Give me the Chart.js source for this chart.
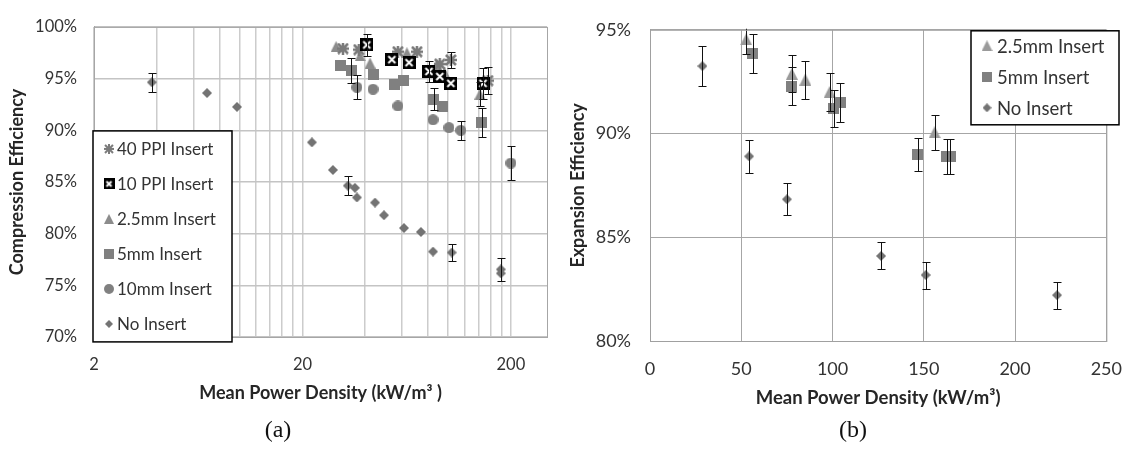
<!DOCTYPE html>
<html>
<head>
   <title>Compression / Expansion Efficiency</title>
   <meta charset="UTF-8">
   <script src="https://cdn.jsdelivr.net/npm/chart.js"></script>
   <style>
       body {
           margin: 0;
           background: #fff;
           width: 1139px;
           height: 461px;
           overflow: hidden;
           position: relative;
           font-family: Lato, sans-serif;
       }
       .panel {
           position: absolute;
           top: 0;
       }
       #panelA { left: 0; }
       #panelB { left: 560px; }
       .caption {
           position: absolute;
           top: 416px;
           width: 100px;
           text-align: center;
           font-family: "Liberation Serif", serif;
           font-size: 24px;
           color: #111;
       }
   </style>
</head>
<body>
   <div class="panel" id="panelA"><canvas id="chartA" width="560" height="420"></canvas></div>
   <div class="panel" id="panelB"><canvas id="chartB" width="579" height="420"></canvas></div>
   <div class="caption" style="left:228px">(a)</div>
   <div class="caption" style="left:803px">(b)</div>

   <script>
       // ---- (a) compression efficiency, log x axis ----
       const xTicksA = [2, 4, 6, 8, 10, 12, 14, 16, 18, 20, 40, 60, 80, 100, 120, 140, 160, 180, 200];
       const xLabelsA = [2, 20, 200];

       const ppi40X = [31.3, 37.3, 57.4, 70.8, 91.2, 103, 155];
       const ppi40Y = [97.9, 97.8, 97.6, 97.6, 96.4, 96.8, 94.8];
       const ppi40Err = [0, 0, 0, 0, 0, 0.8, 1.3];

       const ppi10X = [40.7, 53.7, 64.9, 80.9, 91.2, 103, 147];
       const ppi10Y = [98.26, 96.83, 96.54, 95.69, 95.2, 94.54, 94.54];
       const ppi10Err = [1.1, 0, 0, 1.0, 0, 0, 1.5];

       const mm25X_A = [29, 37.8, 42.2, 63.4, 88.3, 96, 142];
       const mm25Y_A = [98.1, 97.2, 96.5, 97.5, 96.35, 95.6, 93.5];
       const mm25Err_A = [0, 0, 0, 0, 0, 0, 1.2];

       const mm5X_A = [30.6, 34.2, 43.6, 55, 61.4, 85.5, 94.4, 145];
       const mm5Y_A = [96.26, 95.78, 95.4, 94.45, 94.83, 93.02, 92.26, 90.73];
       const mm5Err_A = [0, 1.2, 0, 0, 0, 1.1, 0, 1.4];

       const mm10X = [36.5, 43.6, 57.4, 84.6, 100.9, 115, 200];
       const mm10Y = [94.16, 93.97, 92.35, 91.02, 90.26, 90.0, 86.83];
       const mm10Err = [1.15, 0, 0, 0, 0, 0.9, 1.6];

       const noX_A = [3.79, 6.97, 9.7, 22.2, 28.0, 33.0, 35.7, 36.5, 44.6, 49.2, 61.4, 74, 84.6, 104, 179, 179];
       const noY_A = [94.64, 93.6, 92.26, 88.83, 86.16, 84.64, 84.43, 83.5, 83.0, 81.78, 80.54, 80.16, 78.26, 78.17, 76.54, 76.16];
       const noErr_A = [0.9, 0, 0, 0, 0, 0.9, 0, 0, 0, 0, 0, 0, 0, 0.8, 1.1, 0];

       // ---- (b) expansion efficiency ----
       const mm25X_B = [52.7, 77.7, 85.1, 98.4, 155.9];
       const mm25Y_B = [94.54, 92.88, 92.6, 92.0, 90.06];
       const mm25Err_B = [0.7, 0.9, 0.92, 0.9, 0.83];

       const mm5X_B = [56.4, 77.7, 100.6, 104.3, 146.8, 162.5, 164.5];
       const mm5Y_B = [93.85, 92.28, 91.21, 91.5, 89.0, 88.9, 88.9];
       const mm5Err_B = [0.95, 0.92, 0.88, 0.92, 0.8, 0.85, 0.85];

       const noX_B = [28.7, 54.3, 75, 126.6, 151, 223];
       const noY_B = [93.25, 88.9, 86.83, 84.1, 83.18, 82.21];
       const noErr_B = [0.97, 0.8, 0.77, 0.65, 0.65, 0.65];

       const txt = '#333';
       const gray = '#808080';

       function pts(xs, ys) {
           return xs.map((x, i) => ({ x: x, y: ys[i] }));
       }

       // small canvases used as point styles
       function marker(kind, s, color, lw) {
           const c = document.createElement('canvas');
           c.width = s; c.height = s;
           const g = c.getContext('2d');
           const m = s / 2;
           g.fillStyle = color; g.strokeStyle = color;
           if (kind === 'square') {
               g.fillRect(0, 0, s, s);
           } else if (kind === 'circle') {
               g.beginPath(); g.arc(m, m, m, 0, Math.PI * 2); g.fill();
           } else if (kind === 'triangle') {
               g.beginPath(); g.moveTo(m, 0); g.lineTo(s, s); g.lineTo(0, s); g.closePath(); g.fill();
           } else if (kind === 'diamond') {
               g.beginPath(); g.moveTo(m, 0); g.lineTo(s, m); g.lineTo(m, s); g.lineTo(0, m); g.closePath(); g.fill();
           } else if (kind === 'xbox') {
               g.fillStyle = '#000'; g.fillRect(0, 0, s, s);
               g.strokeStyle = '#fff'; g.lineWidth = 2;
               g.beginPath();
               g.moveTo(3, 3); g.lineTo(s - 3, s - 3);
               g.moveTo(s - 3, 3); g.lineTo(3, s - 3);
               g.stroke();
           } else if (kind === 'star') {
               g.lineWidth = lw || 2.5;
               g.beginPath();
               g.moveTo(m, 0); g.lineTo(m, s);
               g.moveTo(0, m); g.lineTo(s, m);
               g.moveTo(1, 1); g.lineTo(s - 1, s - 1);
               g.moveTo(s - 1, 1); g.lineTo(1, s - 1);
               g.stroke();
           }
           return c;
       }

       // vertical error bars from dataset.errors
       const errorBars = {
           id: 'errorBars',
           afterDatasetsDraw(chart) {
               const ctx = chart.ctx, xs = chart.scales.x, ys = chart.scales.y, a = chart.chartArea;
               ctx.save();
               ctx.beginPath();
               ctx.rect(a.left, a.top - 1, a.right - a.left, a.bottom - a.top + 2);
               ctx.clip();
               ctx.strokeStyle = '#111';
               ctx.lineWidth = 1;
               chart.data.datasets.forEach(ds => {
                   if (!ds.errors) return;
                   ds.data.forEach((p, i) => {
                       const e = ds.errors[i];
                       if (!e) return;
                       const px = Math.round(xs.getPixelForValue(p.x)) + 0.5;
                       const top = Math.round(ys.getPixelForValue(p.y + e)) + 0.5;
                       const bot = Math.round(ys.getPixelForValue(p.y - e)) + 0.5;
                       ctx.beginPath();
                       ctx.moveTo(px, top); ctx.lineTo(px, bot);
                       ctx.moveTo(px - 4, top); ctx.lineTo(px + 4, top);
                       ctx.moveTo(px - 4, bot); ctx.lineTo(px + 4, bot);
                       ctx.stroke();
                   });
               });
               ctx.restore();
           }
       };

       // plot frame
       const frame = {
           id: 'frame',
           afterDatasetsDraw(chart, args, o) {
               const a = chart.chartArea, ctx = chart.ctx;
               ctx.save();
               ctx.strokeStyle = o.color;
               ctx.lineWidth = 1;
               ctx.strokeRect(a.left + 0.5, a.top + 0.5, a.right - a.left, a.bottom - a.top);
               ctx.restore();
           }
       };

       // boxed legend inside the plot
       const boxLegend = {
           id: 'boxLegend',
           afterDraw(chart, args, o) {
               const a = chart.chartArea, ctx = chart.ctx;
               const x = a.left + o.dx, y = a.top + o.dy;
               ctx.save();
               ctx.fillStyle = '#fff';
               ctx.fillRect(x, y, o.w, o.h);
               ctx.strokeStyle = '#000';
               ctx.lineWidth = 1.5;
               ctx.strokeRect(x, y, o.w, o.h);
               ctx.font = o.font;
               ctx.fillStyle = txt;
               ctx.textBaseline = 'middle';
               o.order.forEach((label, i) => {
                   const ds = chart.data.datasets.find(d => d.label === label);
                   const cy = y + o.first + i * o.step;
                   const m = ds.legendMarker;
                   ctx.drawImage(m, x + o.mx - m.width / 2, cy - m.height / 2);
                   ctx.fillText(label, x + o.tx, cy + 1);
               });
               ctx.restore();
           }
       };

       const commonOpts = {
           responsive: false,
           animation: false,
           events: [],
           plugins: {
               legend: { display: false },
               tooltip: { enabled: false }
           }
       };

       // ---- chart (a) ----
       new Chart(document.getElementById('chartA'), {
           type: 'scatter',
           plugins: [errorBars, frame, boxLegend],
           data: {
               datasets: [
                   { label: '10 PPI Insert', data: pts(ppi10X, ppi10Y), errors: ppi10Err,
                     pointStyle: marker('xbox', 13), legendMarker: marker('xbox', 11) },
                   { label: '40 PPI Insert', data: pts(ppi40X, ppi40Y), errors: ppi40Err,
                     pointStyle: marker('star', 12, '#7a7a7a'), legendMarker: marker('star', 10, '#7a7a7a', 2) },
                   { label: '2.5mm Insert', data: pts(mm25X_A, mm25Y_A), errors: mm25Err_A,
                     pointStyle: marker('triangle', 11, '#8c8c8c'), legendMarker: marker('triangle', 10, '#8c8c8c') },
                   { label: '5mm Insert', data: pts(mm5X_A, mm5Y_A), errors: mm5Err_A,
                     pointStyle: marker('square', 11, gray), legendMarker: marker('square', 10, gray) },
                   { label: '10mm Insert', data: pts(mm10X, mm10Y), errors: mm10Err,
                     pointStyle: marker('circle', 11, gray), legendMarker: marker('circle', 10, gray) },
                   { label: 'No Insert', data: pts(noX_A, noY_A), errors: noErr_A,
                     pointStyle: marker('diamond', 10, '#737373'), legendMarker: marker('diamond', 8, '#737373') }
               ]
           },
           options: {
               ...commonOpts,
               layout: { padding: { top: 22, right: 13, left: 0, bottom: 0 } },
               plugins: {
                   ...commonOpts.plugins,
                   frame: { color: '#a6a6a6' },
                   boxLegend: {
                       dx: -1, dy: 104, w: 139, h: 211, first: 18, step: 35, mx: 16, tx: 24,
                       font: '17px Lato',
                       order: ['40 PPI Insert', '10 PPI Insert', '2.5mm Insert', '5mm Insert', '10mm Insert', 'No Insert']
                   }
               },
               scales: {
                   x: {
                       type: 'logarithmic',
                       min: 2,
                       max: 298,
                       afterBuildTicks: s => { s.ticks = xTicksA.map(v => ({ value: v })); },
                       afterFit: s => { s.height = 83; },
                       ticks: {
                           autoSkip: false, maxRotation: 0, padding: 18, color: txt,
                           font: { family: 'Lato', size: 16.5 },
                           callback: v => (xLabelsA.includes(v) ? String(v) : '')
                       },
                       grid: { color: '#cccccc', lineWidth: 1.5, drawTicks: false },
                       border: { color: '#a6a6a6' },
                       title: {
                           display: true, text: 'Mean Power Density (kW/m³ )', color: '#262626',
                           font: { family: 'Lato', size: 18, weight: 'bold' },
                           padding: { top: 0, bottom: 16 }
                       }
                   },
                   y: {
                       min: 70,
                       max: 100,
                       afterFit: s => { s.width = 94; },
                       ticks: {
                           stepSize: 5, padding: 17, color: txt,
                           font: { family: 'Lato', size: 16.5 },
                           callback: v => v + '%'
                       },
                       grid: { color: '#c4c4c4', lineWidth: 1.5, drawTicks: false },
                       border: { color: '#a6a6a6' },
                       title: {
                           display: true, text: 'Compression Efficiency', color: '#262626',
                           font: { family: 'Lato', size: 18, weight: 'bold' },
                           padding: { top: 6, bottom: 0 }
                       }
                   }
               }
           }
       });

       // ---- chart (b) ----
       new Chart(document.getElementById('chartB'), {
           type: 'scatter',
           plugins: [errorBars, frame, boxLegend],
           data: {
               datasets: [
                   { label: '2.5mm Insert', data: pts(mm25X_B, mm25Y_B), errors: mm25Err_B,
                     pointStyle: marker('triangle', 12, '#9a9a9a'), legendMarker: marker('triangle', 11, '#9a9a9a') },
                   { label: '5mm Insert', data: pts(mm5X_B, mm5Y_B), errors: mm5Err_B,
                     pointStyle: marker('square', 11, gray), legendMarker: marker('square', 10, gray) },
                   { label: 'No Insert', data: pts(noX_B, noY_B), errors: noErr_B,
                     pointStyle: marker('diamond', 10, '#737373'), legendMarker: marker('diamond', 9, '#737373') }
               ]
           },
           options: {
               ...commonOpts,
               layout: { padding: { top: 16, right: 19, left: 0, bottom: 0 } },
               plugins: {
                   ...commonOpts.plugins,
                   frame: { color: '#a0a0a0' },
                   boxLegend: {
                       dx: 321, dy: 1, w: 148, h: 94, first: 15, step: 31, mx: 16, tx: 26,
                       font: '18.5px Lato',
                       order: ['2.5mm Insert', '5mm Insert', 'No Insert']
                   }
               },
               scales: {
                   x: {
                       type: 'linear',
                       min: 0,
                       max: 250,
                       afterFit: s => { s.height = 79; },
                       ticks: {
                           stepSize: 50, padding: 17, maxRotation: 0, color: txt,
                           font: { family: 'Lato', size: 18 }
                       },
                       grid: { color: '#a6a6a6', lineWidth: 1, drawTicks: false },
                       border: { color: '#a0a0a0' },
                       title: {
                           display: true, text: 'Mean Power Density (kW/m³)', color: '#262626',
                           font: { family: 'Lato', size: 18.5, weight: 'bold' },
                           padding: { top: 0, bottom: 11 }
                       }
                   },
                   y: {
                       min: 80,
                       max: 95,
                       afterFit: s => { s.width = 90; },
                       ticks: {
                           stepSize: 5, padding: 19, color: txt,
                           font: { family: 'Lato', size: 18 },
                           callback: v => v + '%'
                       },
                       grid: { color: '#a6a6a6', lineWidth: 1, drawTicks: false },
                       border: { color: '#a0a0a0' },
                       title: {
                           display: true, text: 'Expansion Efficiency', color: '#262626',
                           font: { family: 'Lato', size: 18, weight: 'bold' },
                           padding: { top: 7, bottom: 0 }
                       }
                   }
               }
           }
       });
   </script>
</body>
</html>
